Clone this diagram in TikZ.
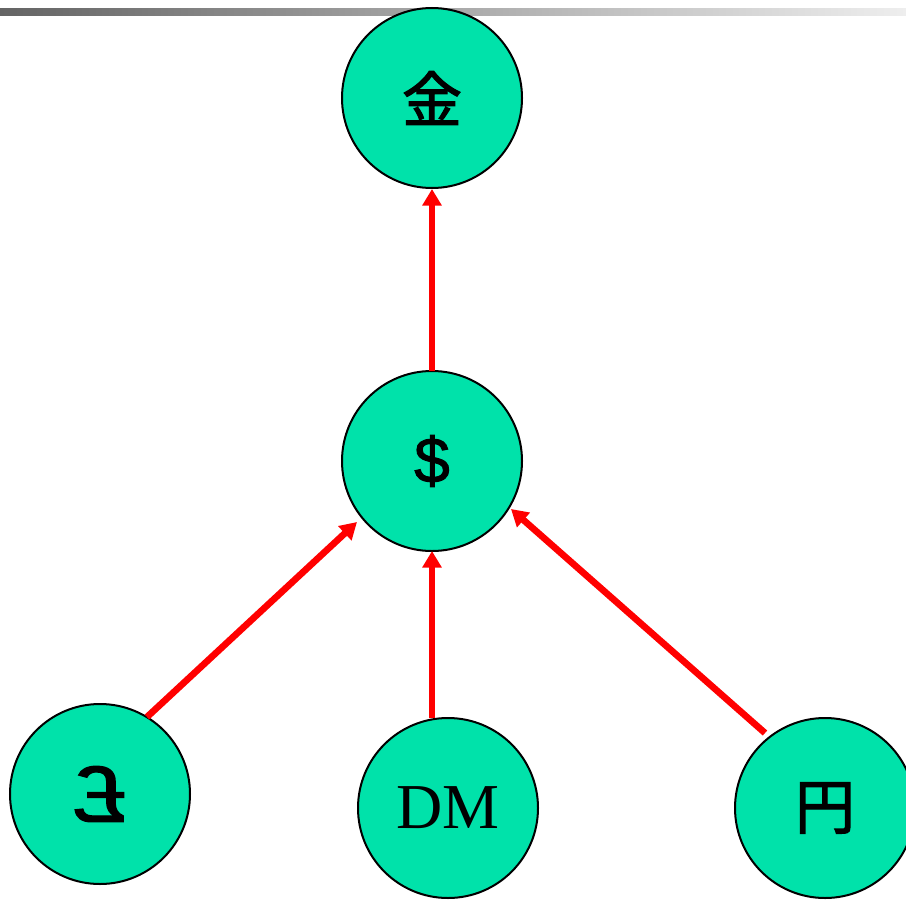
\documentclass[tikz,border=0pt]{standalone}
\usepackage{fontspec}
\usepackage{graphicx}
\setmainfont{Liberation Serif}
\newfontfamily\cjkfont[FakeBold=2]{Noto Sans CJK JP}
\newfontfamily\arialfont[FakeBold=1.5]{Liberation Sans}
\usetikzlibrary{arrows.meta}
\definecolor{mint}{RGB}{0,226,170}
\definecolor{barleft}{RGB}{100,100,100}
\definecolor{barright}{RGB}{238,238,238}
\tikzset{
  coin/.style={circle, draw=black, line width=1.5pt, fill=mint, minimum size=135pt, inner sep=0pt},
  link/.style={draw=red, line width=5pt, -{Triangle[width=14pt,length=12.5pt]}}
}
\begin{document}
\begin{tikzpicture}[x=0.75pt,y=-0.75pt]
\useasboundingbox (0,0) rectangle (906,899);
\shade[left color=barleft, right color=barright] (0,9) rectangle (906,16);
\node[coin] (gold) at (432,98) {\cjkfont\fontsize{45}{45}\selectfont 金};
\node[coin] (usd) at (432,461) {\raisebox{-4pt}{\arialfont\fontsize{48}{48}\selectfont \symbol{36}}};
\node[coin] (gbp) at (100,794) {\arialfont\fontsize{46}{46}\selectfont \scalebox{-1.55}[1.3]{\symbol{163}}};
\node[coin] (dm) at (448,808) {\fontsize{48}{48}\selectfont DM};
\node[coin] (yen) at (825,808) {\cjkfont\fontsize{45}{45}\selectfont 円};
\coordinate (usdtop) at (432,371);
\coordinate (dmtop) at (432,718);
\coordinate (gbpout) at (147,717);
\coordinate (gbpend) at (357,522);
\coordinate (yenout) at (765,733);
\coordinate (yenend) at (511,509);
\coordinate (usdbot) at (432,551);
\coordinate (goldbot) at (432,189);
\draw[link] (usdtop) -- (goldbot);
\draw[link] (dmtop) -- (usdbot);
\draw[link] (gbpout) -- (gbpend);
\draw[link] (yenout) -- (yenend);
\end{tikzpicture}
\end{document}
